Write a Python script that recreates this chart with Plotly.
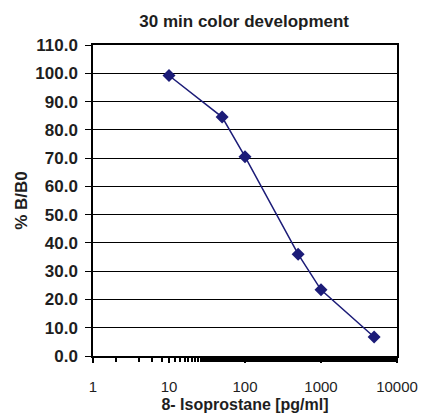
import plotly.graph_objects as go

concentration = [10, 50, 100, 500, 1000, 5000]
pct_b_b0 = [99.2, 84.5, 70.5, 36.0, 23.4, 6.7]
x_tick_vals = [1, 10, 100, 1000, 10000]
x_tick_text = ["1", "10", "100", "1000", "10000"]

navy = "#1c1c78"
txt = "#1e1e1e"
font_family = "Liberation Sans, Arial, sans-serif"

fig = go.Figure()
fig.add_trace(go.Scatter(
    x=concentration, y=pct_b_b0, mode="lines+markers",
    line=dict(color=navy, width=1.5),
    marker=dict(symbol="diamond", size=10, color=navy),
    showlegend=False,
))

fig.update_layout(
    width=421, height=419,
    margin=dict(l=93, r=24, t=45, b=63),
    paper_bgcolor="white", plot_bgcolor="white",
    font=dict(family=font_family, color=txt),
    title=dict(text="<b>30 min color development</b>", x=0.58, xanchor="center",
               y=0.95, yanchor="middle", font=dict(size=17, color=txt)),
    xaxis=dict(
        type="log", range=[0, 4], automargin=False,
        tickvals=x_tick_vals, ticktext=x_tick_text,
        ticks="outside", ticklen=5, tickwidth=2, tickcolor="black",
        ticklabelstandoff=11,
        minor=dict(ticks="outside", ticklen=4, tickwidth=2, tickcolor="black", showgrid=False),
        showgrid=False, showline=True, linecolor="black", linewidth=2, mirror=True,
        tickfont=dict(size=15, color=txt),
        title=dict(text="<b>8- Isoprostane [pg/ml]</b>", font=dict(size=16, color=txt), standoff=5),
        zeroline=False,
    ),
    yaxis=dict(
        range=[0, 110], dtick=10, tickformat=".1f", automargin=False,
        ticks="outside", ticklen=6, tickcolor="black",
        ticklabelstandoff=4,
        showgrid=True, gridcolor="black", gridwidth=1,
        showline=True, linecolor="black", linewidth=1.5, mirror=True,
        tickfont=dict(size=17, color=txt),
        title=dict(text="<b>% B/B0</b>", font=dict(size=17, color=txt), standoff=3),
        zeroline=False,
    ),
)
fig.update_xaxes(tickprefix="<b>", ticksuffix="</b>")
fig.update_yaxes(tickprefix="<b>", ticksuffix="</b>")

fig.write_html("out.html", config={"displayModeBar": False},
               post_script="document.body.style.margin='0';document.body.style.overflow='hidden';")
